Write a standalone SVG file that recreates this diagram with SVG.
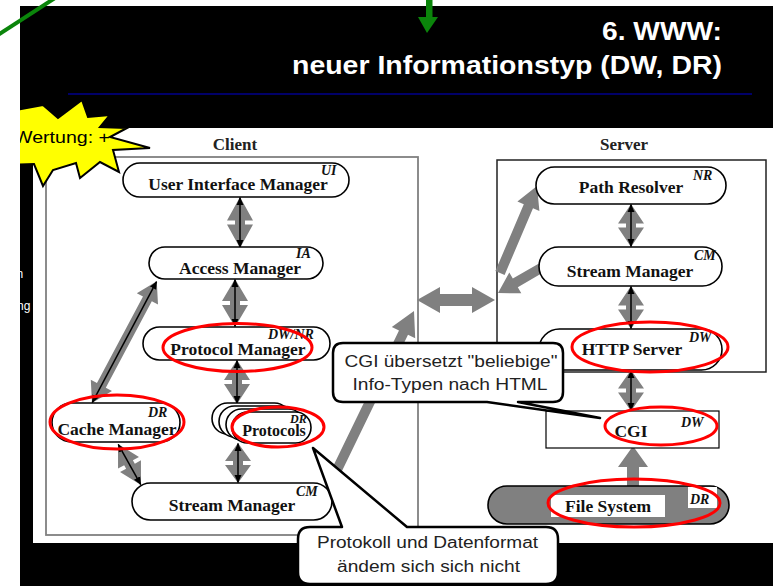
<svg xmlns="http://www.w3.org/2000/svg" width="773" height="586" viewBox="0 0 773 586">
  <style>
    .pill { fill: #fff; stroke: #000; stroke-width: 1.6; }
    .lbl { font-family: "Liberation Serif", "Times New Roman", serif; font-weight: bold; font-size: 17.5px; fill: #111; text-anchor: middle; }
    .hdr { font-family: "Liberation Serif", "Times New Roman", serif; font-weight: bold; font-size: 17px; fill: #222; text-anchor: middle; }
    .tag { font-family: "Liberation Serif", "Times New Roman", serif; font-weight: bold; font-style: italic; font-size: 14px; fill: #111; }
    .grey { fill: #808080; }
    .dbl { stroke: #000; stroke-width: 1.5; fill: none; marker-start: url(#ah); marker-end: url(#ah); }
    .ring { fill: none; stroke: #f00; stroke-width: 3; }
    .note { fill: #fff; stroke: #000; stroke-width: 2.5; stroke-linejoin: round; }
    .ntxt { font-family: "Liberation Sans", Arial, sans-serif; font-size: 16px; fill: #222; text-anchor: middle; }
    .title { font-family: "Liberation Sans", Arial, sans-serif; font-weight: bold; font-size: 25px; fill: #fff; }
  </style>
  <defs>
    <marker id="ah" viewBox="0 0 8 8" refX="7.5" refY="4" markerWidth="8" markerHeight="8" markerUnits="userSpaceOnUse" orient="auto-start-reverse">
      <path d="M0,0.5 L8,4 L0,7.5 z" fill="#000"/>
    </marker>
  </defs>

  <!-- page and slide background -->
  <rect x="0" y="0" width="773" height="586" fill="#fff"/>
  <rect x="20" y="6" width="753" height="580" fill="#000"/>

  <!-- title -->
  <g id="title">
    <text class="title" x="602" y="40" textLength="120" lengthAdjust="spacingAndGlyphs">6. WWW:</text>
    <text class="title" x="292" y="74" textLength="430" lengthAdjust="spacingAndGlyphs">neuer Informationstyp (DW, DR)</text>
    <line x1="68" y1="94" x2="752" y2="94" stroke="#00008b" stroke-width="1.6"/>
  </g>

  <!-- cut-off words at the left margin -->
  <text x="16.5" y="278" font-family="Liberation Sans, Arial, sans-serif" font-size="12" fill="#fff">n</text>
  <text x="17" y="310" font-family="Liberation Sans, Arial, sans-serif" font-size="12" fill="#fff">ng</text>

  <!-- figure panel -->
  <rect x="33" y="128" width="740" height="415" fill="#fff"/>

  <!-- client / server frames -->
  <g id="client-frame">
    <text class="hdr" x="235" y="150">Client</text>
    <rect x="46" y="157" width="372" height="378" fill="none" stroke="#808080" stroke-width="1.8"/>
  </g>
  <g id="server-frame">
    <text class="hdr" x="624" y="150">Server</text>
    <rect x="497" y="160" width="269" height="212" fill="none" stroke="#222" stroke-width="1.5"/>
  </g>

  <!-- connectors -->
  <g id="connectors">
    <!-- client vertical double arrows -->
    <polygon class="grey" points="240,197 253,220.5 245,220.5 245,224.5 253,224.5 240,248 227,224.5 235,224.5 235,220.5 227,220.5"/>
    <line class="dbl" x1="240" y1="197.5" x2="240" y2="247.5"/>
    <polygon class="grey" points="235,279 248,301 240,301 240,305 248,305 235,327 222,305 230,305 230,301 222,301"/>
    <line class="dbl" x1="235" y1="279.5" x2="235" y2="326.5"/>
    <polygon class="grey" points="237,360 250,380 242,380 242,384 250,384 237,404 224,384 232,384 232,380 224,380"/>
    <line class="dbl" x1="237" y1="360.5" x2="237" y2="403.5"/>
    <polygon class="grey" points="238,443 251,461 243,461 243,465 251,465 238,483 225,465 233,465 233,461 225,461"/>
    <line class="dbl" x1="238" y1="443.5" x2="238" y2="482.5"/>

    <!-- cache manager <-> access manager -->
    <g transform="translate(92,403) rotate(-152)">
      <polygon class="grey" points="0,0 12,20 5,20 5,118 12,118 0,138 -12,118 -5,118 -5,20 -12,20"/>
      <line class="dbl" x1="0" y1="0.5" x2="0" y2="137.5"/>
    </g>
    <!-- cache manager <-> stream manager -->
    <g transform="translate(118,444) rotate(-29.3)">
      <polygon class="grey" points="0,0 12,21.5 5,21.5 5,25.5 12,25.5 0,47 -12,25.5 -5,25.5 -5,21.5 -12,21.5"/>
      <line class="dbl" x1="0" y1="0.5" x2="0" y2="46.5"/>
    </g>

    <!-- client stream manager -> network -->
    <polygon class="grey" points="328.5,475.8 399,330.4 391.8,326.9 414,311 415.2,338.3 408,334.8 337.5,480.2"/>
    <!-- network link between client and server -->
    <polygon class="grey" points="417,300 440,287 440,294 472,294 472,287 495,300 472,313 472,306 440,306 440,313"/>
    <!-- server entry -> path resolver -->
    <polygon class="grey" points="495.4,271 523.8,204.3 517.4,201.6 537,186 539.4,211 533,208.3 504.6,275"/>
    <!-- server stream manager -> network -->
    <polygon class="grey" points="538.5,263.7 512.8,278.6 509.3,272.5 498,293 521.3,293.3 517.8,287.3 543.5,272.3"/>

    <!-- server vertical double arrows -->
    <polygon class="grey" points="631,204 644,223.5 636,223.5 636,227.5 644,227.5 631,247 618,227.5 626,227.5 626,223.5 618,223.5"/>
    <line class="dbl" x1="631" y1="204.5" x2="631" y2="246.5"/>
    <polygon class="grey" points="631,286 644,305.5 636,305.5 636,309.5 644,309.5 631,329 618,309.5 626,309.5 626,305.5 618,305.5"/>
    <line class="dbl" x1="631" y1="286.5" x2="631" y2="328.5"/>
    <polygon class="grey" points="631,370 644,388.5 636,388.5 636,392.5 644,392.5 631,411 618,392.5 626,392.5 626,388.5 618,388.5"/>
    <line class="dbl" x1="631" y1="370.5" x2="631" y2="410.5"/>
    <!-- file system -> CGI -->
    <polygon class="grey" points="633,446 648,467 639,467 639,487 627,487 627,467 618,467"/>
  </g>

  <!-- client nodes -->
  <g id="ui-manager">
    <rect class="pill" x="123" y="163" width="226" height="34" rx="17"/>
    <text class="lbl" x="238" y="190">User Interface Manager</text>
    <text class="tag" x="321" y="175">UI</text>
  </g>
  <g id="access-manager">
    <rect class="pill" x="149" y="247" width="174" height="32" rx="16"/>
    <text class="lbl" x="240" y="274">Access Manager</text>
    <text class="tag" x="296" y="258">IA</text>
  </g>
  <g id="protocol-manager">
    <rect class="pill" x="143" y="327" width="187" height="33" rx="16.5"/>
    <text class="tag" x="268" y="339">DW/NR</text>
    <text class="lbl" x="238" y="355">Protocol Manager</text>
  </g>
  <g id="cache-manager">
    <rect class="pill" x="52" y="403" width="128" height="39" rx="19.5"/>
    <text class="tag" x="148" y="417">DR</text>
    <text class="lbl" x="117" y="435">Cache Manager</text>
  </g>
  <g id="protocols">
    <rect class="pill" x="212" y="403" width="78" height="31" rx="15.5"/>
    <rect class="pill" x="219" y="406" width="78" height="31" rx="15.5"/>
    <rect class="pill" x="226" y="409" width="78" height="31" rx="15.5"/>
    <rect class="pill" x="232" y="412" width="79" height="31" rx="15.5"/>
    <text class="tag" x="290" y="423" style="font-size:12px">DR</text>
    <text class="lbl" x="274" y="436" style="font-size:16px">Protocols</text>
  </g>
  <g id="client-stream-manager">
    <rect class="pill" x="132" y="483" width="200" height="37" rx="18.5"/>
    <text class="tag" x="296" y="496">CM</text>
    <text class="lbl" x="232" y="511">Stream Manager</text>
  </g>

  <!-- server nodes -->
  <g id="path-resolver">
    <rect class="pill" x="536" y="167" width="190" height="37" rx="18.5"/>
    <text class="tag" x="693" y="180">NR</text>
    <text class="lbl" x="631" y="193">Path Resolver</text>
  </g>
  <g id="server-stream-manager">
    <rect class="pill" x="539" y="247" width="183" height="39" rx="19.5"/>
    <text class="tag" x="694" y="260">CM</text>
    <text class="lbl" x="630" y="277">Stream Manager</text>
  </g>
  <g id="http-server">
    <rect class="pill" x="539" y="329" width="183" height="41" rx="20.5"/>
    <text class="tag" x="689" y="342">DW</text>
    <text class="lbl" x="632" y="355">HTTP Server</text>
  </g>
  <g id="cgi">
    <rect x="546" y="411" width="173" height="37" fill="#fff" stroke="#000" stroke-width="1.2"/>
    <text class="tag" x="681" y="427">DW</text>
    <text class="lbl" x="631" y="437">CGI</text>
  </g>
  <g id="file-system">
    <rect x="488" y="486" width="241" height="38" rx="19" fill="#808080" stroke="#000" stroke-width="1.6"/>
    <rect x="551" y="495" width="114" height="22" fill="#fff"/>
    <rect x="688" y="487" width="29" height="21" fill="#fff"/>
    <text class="tag" x="690" y="504">DR</text>
    <text class="lbl" x="608" y="512">File System</text>
  </g>

  <!-- red highlight rings -->
  <g id="highlights">
    <ellipse class="ring" cx="237.5" cy="347.5" rx="74.5" ry="24"/>
    <ellipse class="ring" cx="117" cy="422" rx="67" ry="27"/>
    <ellipse class="ring" cx="278" cy="427" rx="46" ry="20"/>
    <ellipse class="ring" cx="650" cy="347" rx="78" ry="25"/>
    <ellipse class="ring" cx="661" cy="426" rx="56" ry="19"/>
    <ellipse class="ring" cx="634" cy="503" rx="86" ry="24"/>
  </g>

  <!-- speech bubbles -->
  <g id="note-cgi">
    <path class="note" d="M343,343 H553 Q563,343 563,353 V392 Q563,402 553,402 H518 L600,418 L487,402 H343 Q333,402 333,392 V353 Q333,343 343,343 Z"/>
    <text class="ntxt" x="451" y="367" textLength="213" lengthAdjust="spacingAndGlyphs">CGI übersetzt "beliebige"</text>
    <text class="ntxt" x="450" y="390" textLength="195" lengthAdjust="spacingAndGlyphs">Info-Typen nach HTML</text>
  </g>
  <g id="note-protocols">
    <path class="note" d="M310,527 H342 L313,448 L407,527 H546 Q558,527 558,539 V572 Q558,584 546,584 H310 Q298,584 298,572 V539 Q298,527 310,527 Z"/>
    <text class="ntxt" x="427.5" y="548" textLength="221" lengthAdjust="spacingAndGlyphs">Protokoll und Datenformat</text>
    <text class="ntxt" x="428.5" y="572" textLength="183" lengthAdjust="spacingAndGlyphs">ändem sich sich nicht</text>
  </g>

  <!-- rating starburst -->
  <g id="rating">
    <polygon points="5,112 43,105 58,118 82,100 88,117 110,115 100,127 127,128 110,137 150,148 113,150 119,172 100,162 80,178 76,163 53,170 43,186 34,164 5,165" fill="#ffff00" stroke="#000" stroke-width="2" stroke-linejoin="miter"/>
    <text x="14" y="143" font-family="Liberation Sans, Arial, sans-serif" font-size="17" fill="#000" textLength="96" lengthAdjust="spacingAndGlyphs">Wertung: +</text>
  </g>

  <!-- page margin -->
  <rect x="0" y="0" width="20" height="586" fill="#fff"/>

  <!-- green pointers -->
  <line x1="-2" y1="35" x2="55" y2="-2" stroke="#0b850b" stroke-width="4"/>
  <rect x="426" y="0" width="6.5" height="18" fill="#0b850b"/>
  <polygon points="418,17 438,17 427,33" fill="#0b850b"/>
</svg>
